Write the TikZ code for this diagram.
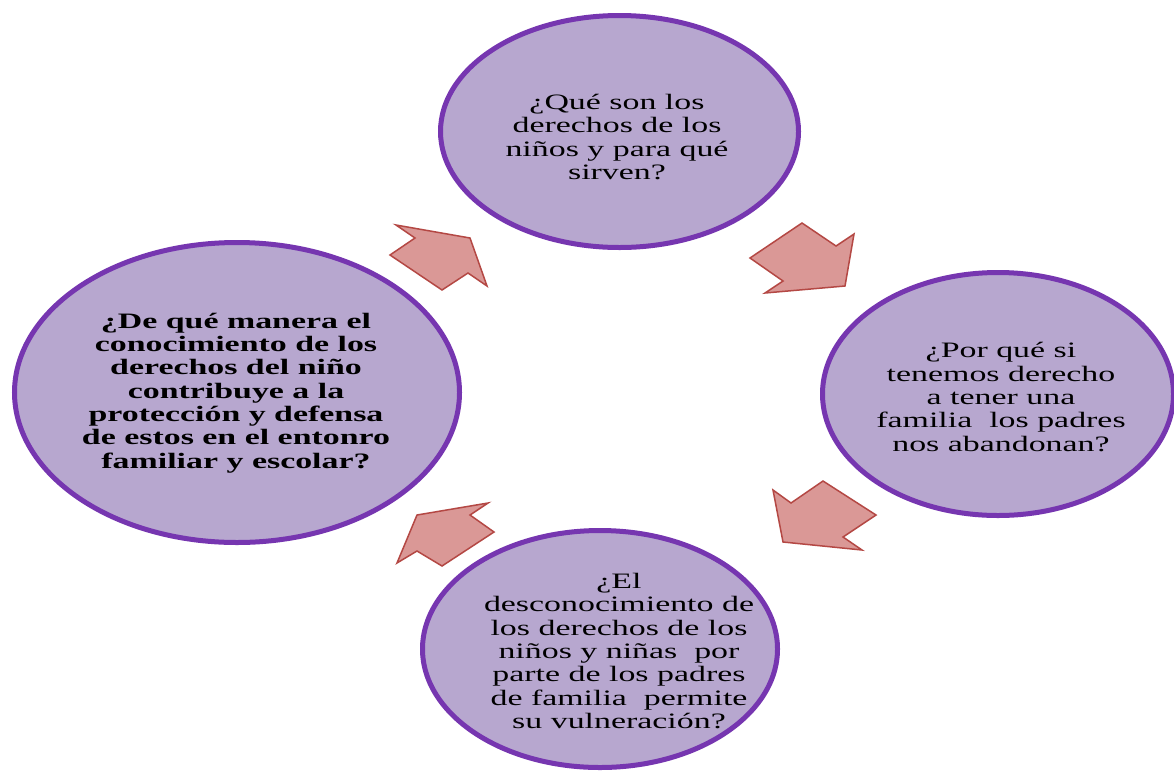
\documentclass[tikz,border=0pt]{standalone}
\usepackage{fontspec}
\setmainfont{Liberation Serif}
\newfontfamily\qfont[FakeStretch=1.54]{Liberation Serif}
\usetikzlibrary{shapes.geometric}
\definecolor{ellfill}{RGB}{183,167,207}
\definecolor{elldraw}{RGB}{118,54,176}
\definecolor{arrfill}{RGB}{218,152,150}
\definecolor{arrdraw}{RGB}{180,72,68}
\begin{document}
\begin{tikzpicture}[x=1pt,y=-1pt,
  bubble/.style={ellipse, draw=elldraw, fill=ellfill, line width=5pt, inner sep=0pt},
  qtext/.style={align=center, font=\qfont\fontsize{22}{23.3}\selectfont, inner sep=0pt, text=black},
  blockarrow/.style={fill=arrfill, draw=arrdraw, line width=1.5pt, line join=miter}]
\useasboundingbox (0,0) rectangle (1174,772);
\clip (0,0) rectangle (1174,772);
\fill[white] (0,0) rectangle (1174,772);

\node[bubble, minimum width=358pt, minimum height=232pt] (q1) at (619.5,131.5) {};
\node[bubble, minimum width=351pt, minimum height=243pt] (q2) at (998,394) {};
\node[bubble, minimum width=355pt, minimum height=237pt] (q3) at (600,649) {};
\node[bubble, minimum width=445pt, minimum height=300pt] (q4) at (237,392.5) {};

\node[qtext] (t1) at (617,137) {¿Qué son los\\derechos de los\\niños y para qué\\sirven?};
\node[qtext] (t2) at (1001,397) {¿Por qué si\\tenemos derecho\\a tener una\\familia~ los padres\\nos abandonan?};
\node[qtext] (t3) at (619,651) {¿El\\desconocimiento de\\los derechos de los\\niños y niñas~ por\\parte de los padres\\de familia~ permite\\su vulneración?};
\node[qtext, font=\qfont\bfseries\fontsize{22}{23.3}\selectfont] (t4) at (236,393) {¿De qué manera el\\conocimiento de los\\derechos del niño\\contribuye a la\\protección y defensa\\de estos en el entonro\\familiar y escolar?};

\draw[blockarrow] (396,225) -- (470,238) -- (487,286) -- (468,273) -- (442,290) -- (390,255) -- (415,238) -- cycle;
\draw[blockarrow] (802,223) -- (836,246) -- (854,234) -- (845,286) -- (765,293) -- (783,281) -- (750,258) -- cycle;
\draw[blockarrow] (773,490) -- (791,503) -- (823,481) -- (876,515) -- (843,537) -- (862,550) -- (783,542) -- cycle;
\draw[blockarrow] (488,503) -- (470,515) -- (494,532) -- (442,566) -- (417,551) -- (397,563) -- (417,515) -- cycle;
\end{tikzpicture}
\end{document}
